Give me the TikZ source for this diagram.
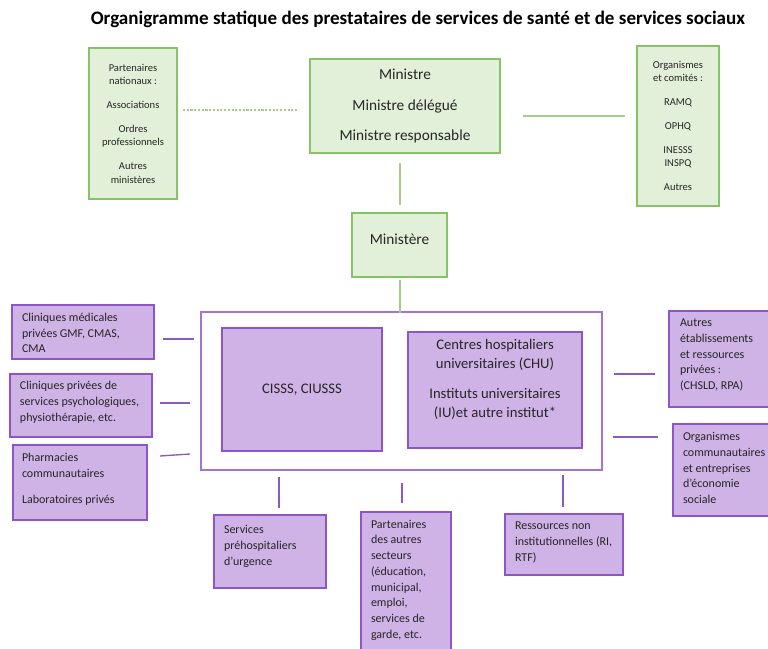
\documentclass[tikz,border=0pt]{standalone}
\usepackage{fontspec}
\setmainfont{Carlito}
\definecolor{gfill}{HTML}{E2EFD9}
\definecolor{gline}{HTML}{86C266}
\definecolor{gconncol}{HTML}{A3D085}
\definecolor{pfill}{HTML}{CFB2E6}
\definecolor{pline}{HTML}{8E55C4}
\definecolor{outline}{HTML}{A274D6}
\definecolor{pconncol}{HTML}{8A5AC0}
\definecolor{tcol}{HTML}{262626}
\begin{document}
\begin{tikzpicture}[x=0.75pt,y=-0.75pt,
  every node/.style={inner sep=0pt, outer sep=0pt, text=tcol},
  gbox/.style={draw=gline, fill=gfill, line width=1.1pt, anchor=north west, align=center},
  pbox/.style={draw=pline, fill=pfill, line width=1.1pt, anchor=north west},
  ptext/.style={align=left, anchor=west, font=\fontsize{9}{11.8}\selectfont},
  gsmall/.style={font=\fontsize{7.9}{10}\selectfont},
  gbig/.style={font=\fontsize{11.5}{14}\selectfont},
  gconn/.style={draw=gconncol, line width=1pt},
  pconn/.style={draw=pconncol, line width=1pt}]
\path[fill=white, use as bounding box] (0,0) rectangle (768,649);

% title
\node[font=\fontsize{14.3}{17}\selectfont\bfseries, text=black] (title) at (418,19)
  {Organigramme statique des prestataires de services de santé et de services sociaux};

% green boxes
\node[gbox, gsmall, minimum width=66pt, minimum height=113.25pt] (gP) at (89,48)
  {Partenaires\\nationaux :\\[8pt]Associations\\[8pt]Ordres\\professionnels\\[8pt]Autres\\ministères};
\node[gbox, gbig, minimum width=142.5pt, minimum height=70.5pt] (gM) at (310,59)
  {Ministre\\[9pt]Ministre délégué\\[9pt]Ministre responsable};
\node[gbox, gsmall, minimum width=61.5pt, minimum height=120pt] (gO) at (637,46)
  {Organismes\\et comités :\\[8pt]RAMQ\\[8pt]OPHQ\\[8pt]INESSS\\INSPQ\\[8pt]Autres};
\node[gbox, gbig, minimum width=71.25pt, minimum height=48pt, text depth=9pt] (gMin) at (352,213)
  {Ministère};

% central frame
\node[draw=outline, line width=1.1pt, fill=white, anchor=north west,
      minimum width=300.75pt, minimum height=118.5pt] (outer) at (201,312) {};
\node[pbox, align=center, font=\fontsize{11}{14}\selectfont,
      minimum width=120pt, minimum height=92.25pt] (cisss) at (222,328) {CISSS, CIUSSS};
\node[pbox, align=center, font=\fontsize{11}{14.25}\selectfont,
      minimum width=130.5pt, minimum height=87pt, text depth=17pt] (chu) at (408,332)
  {Centres hospitaliers\\universitaires (CHU)\\[8pt]Instituts universitaires\\(IU)et autre institut*};

% left boxes
\node[pbox, minimum width=106.5pt, minimum height=40.5pt] (clin1) at (12,305) {};
\node[ptext, yshift=-0.75pt] (clin1t) at ([xshift=7.5pt]clin1.west)
  {Cliniques médicales\\privées GMF, CMAS,\\CMA};
\node[pbox, minimum width=106.5pt, minimum height=47.25pt] (clin2) at (10,374) {};
\node[ptext, yshift=2.25pt] (clin2t) at ([xshift=7.5pt]clin2.west)
  {Cliniques privées de\\services psychologiques,\\physiothérapie, etc.};
\node[pbox, minimum width=100.5pt, minimum height=56.25pt] (pharm) at (13,445) {};
\node[ptext, yshift=2.25pt] (pharmt) at ([xshift=6.75pt]pharm.west)
  {Pharmacies\\communautaires\\[8pt]Laboratoires privés};

% right boxes
\node[pbox, minimum width=82.5pt, minimum height=72pt] (autres) at (669,311) {};
\node[ptext, yshift=3pt] (autrest) at ([xshift=8.25pt]autres.west)
  {Autres\\établissements\\et ressources\\privées :\\(CHSLD, RPA)};
\node[pbox, minimum width=82.5pt, minimum height=69pt] (orgcom) at (673,424) {};
\node[ptext, yshift=1.5pt] (orgcomt) at ([xshift=7.5pt]orgcom.west)
  {Organismes\\communautaires\\et entreprises\\d’économie\\sociale};

% bottom boxes
\node[pbox, minimum width=84pt, minimum height=54.75pt] (prehosp) at (214,515) {};
\node[ptext, yshift=3.75pt] (prehospt) at ([xshift=7.5pt]prehosp.west)
  {Services\\préhospitaliers\\d’urgence};
\node[pbox, minimum width=67.5pt, minimum height=108.75pt] (partaut) at (361,512) {};
\node[ptext, anchor=north west] (partautt) at ([shift={(7.5pt,-6pt)}]partaut.north west)
  {Partenaires\\des autres\\secteurs\\(éducation,\\municipal,\\emploi,\\services de\\garde, etc.};
\node[pbox, minimum width=88.5pt, minimum height=45.75pt] (ressnon) at (505,514) {};
\node[ptext, yshift=1.5pt] (ressnont) at ([xshift=7.5pt]ressnon.west)
  {Ressources non\\institutionnelles (RI,\\RTF)};

% connectors (free-floating segments)
\coordinate (d1) at (183,110); \coordinate (d2) at (297,110);
\draw[gconn, dash pattern=on 1.6pt off 1.2pt] (d1) -- (d2);
\coordinate (r1) at (523,116); \coordinate (r2) at (625,116);
\draw[gconn] (r1) -- (r2);
\coordinate (v1) at (400,163); \coordinate (v2) at (400,205);
\draw[gconn] (v1) -- (v2);
\coordinate (v3) at (400,280); \coordinate (v4) at (400,313);
\draw[gconn] (v3) -- (v4);

\coordinate (a1) at (163,339); \coordinate (a2) at (194,339);
\draw[pconn] (a1) -- (a2);
\coordinate (b1) at (160,403); \coordinate (b2) at (190,403);
\draw[pconn] (b1) -- (b2);
\coordinate (c1) at (160,456); \coordinate (c2) at (190,454);
\draw[pconn] (c1) -- (c2);
\coordinate (e1) at (614,374); \coordinate (e2) at (655,374);
\draw[pconn] (e1) -- (e2);
\coordinate (f1) at (613,437); \coordinate (f2) at (658,437);
\draw[pconn] (f1) -- (f2);
\coordinate (g1) at (279,477); \coordinate (g2) at (279,508);
\draw[pconn] (g1) -- (g2);
\coordinate (h1) at (402,483); \coordinate (h2) at (402,503);
\draw[pconn] (h1) -- (h2);
\coordinate (k1) at (563,475); \coordinate (k2) at (563,507);
\draw[pconn] (k1) -- (k2);
\end{tikzpicture}
\end{document}
